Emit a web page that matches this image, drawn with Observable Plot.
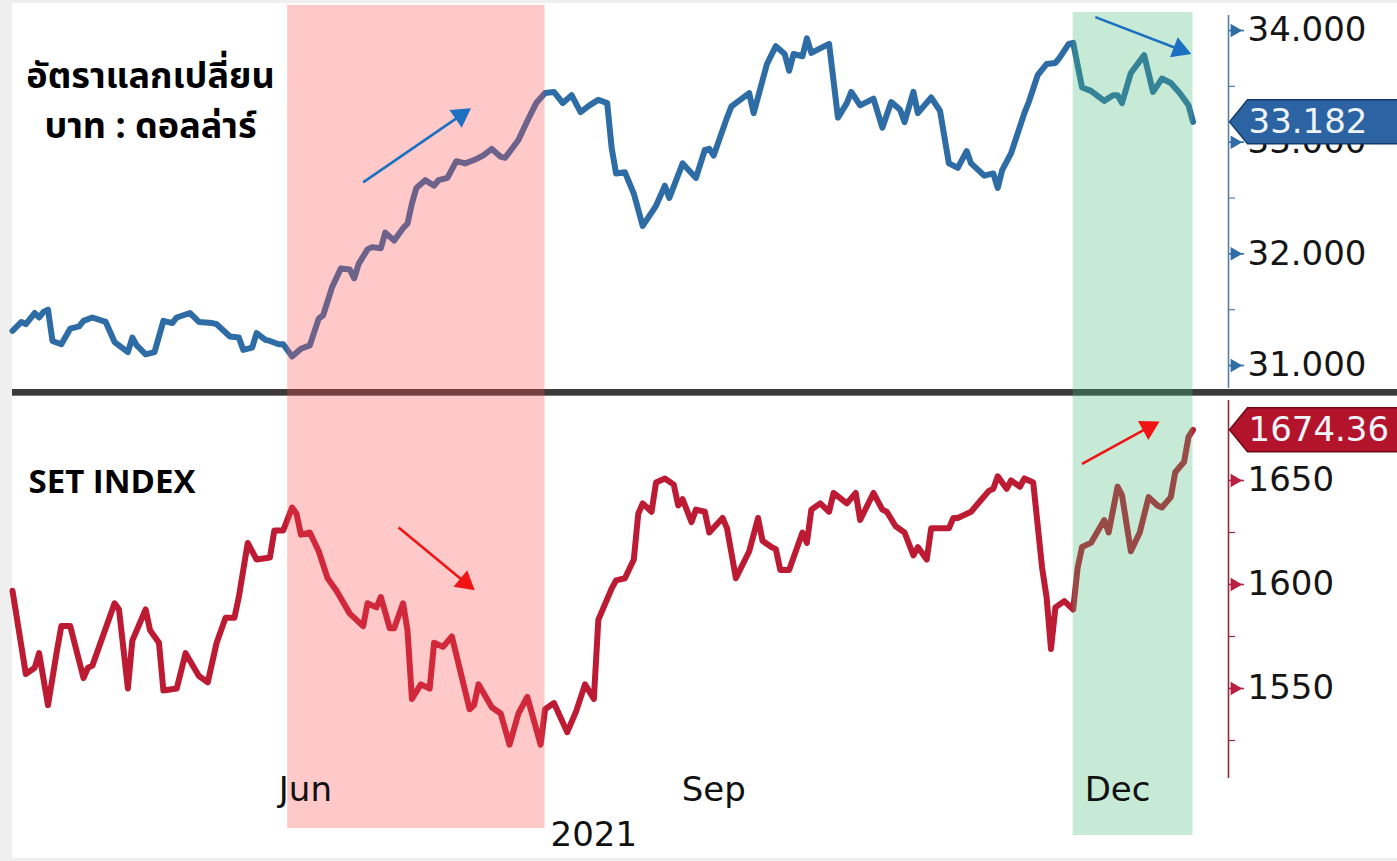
<!DOCTYPE html>
<html><head><meta charset="utf-8">
<script src="https://cdn.jsdelivr.net/npm/d3@7"></script>
<script src="https://cdn.jsdelivr.net/npm/@observablehq/plot@0.6"></script>
<style>
body{margin:0;background:#efefef;}
#wrap{position:relative;width:1397px;height:861px;overflow:hidden;}
#paper{position:absolute;left:12px;top:3px;right:0;bottom:3px;background:#fff;}
.layer{position:absolute;left:0;}
#sep{position:absolute;left:12px;right:0;top:389px;height:6px;background:#3b3b3b;border-bottom:1px solid #777;}
</style></head><body>
<div id="wrap"><div id="paper"></div>
<div id="top" class="layer" style="top:0"></div>
<div id="bottom" class="layer" style="top:393px"></div>
<div id="sep"></div>
<div id="overlay" class="layer" style="top:0;pointer-events:none"></div>
<div id="topAnno" class="layer" style="top:0;pointer-events:none"></div>
<div id="bottomAnno" class="layer" style="top:393px;pointer-events:none"></div>
</div>
<script>
// ---------- DATA ----------
const fxDates = ["2021-03-27","2021-03-29","2021-03-30","2021-04-01","2021-04-02","2021-04-03","2021-04-04","2021-04-05","2021-04-07","2021-04-09","2021-04-11","2021-04-12","2021-04-14","2021-04-17","2021-04-19","2021-04-22","2021-04-23","2021-04-24","2021-04-26","2021-04-28","2021-04-30","2021-05-02","2021-05-03","2021-05-06","2021-05-08","2021-05-11","2021-05-12","2021-05-15","2021-05-17","2021-05-18","2021-05-20","2021-05-21","2021-05-23","2021-05-24","2021-05-26","2021-05-27","2021-05-29","2021-05-31","2021-06-02","2021-06-04","2021-06-05","2021-06-07","2021-06-09","2021-06-11","2021-06-12","2021-06-13","2021-06-15","2021-06-16","2021-06-18","2021-06-19","2021-06-21","2021-06-23","2021-06-24","2021-06-25","2021-06-26","2021-06-28","2021-06-30","2021-07-01","2021-07-03","2021-07-05","2021-07-07","2021-07-09","2021-07-11","2021-07-13","2021-07-15","2021-07-16","2021-07-19","2021-07-21","2021-07-23","2021-07-25","2021-07-27","2021-07-29","2021-07-31","2021-08-02","2021-08-04","2021-08-06","2021-08-08","2021-08-09","2021-08-10","2021-08-12","2021-08-14","2021-08-16","2021-08-19","2021-08-21","2021-08-22","2021-08-25","2021-08-28","2021-08-30","2021-08-31","2021-09-01","2021-09-04","2021-09-05","2021-09-09","2021-09-10","2021-09-13","2021-09-15","2021-09-17","2021-09-18","2021-09-19","2021-09-21","2021-09-22","2021-09-23","2021-09-27","2021-09-29","2021-10-01","2021-10-02","2021-10-04","2021-10-07","2021-10-09","2021-10-11","2021-10-13","2021-10-14","2021-10-16","2021-10-17","2021-10-20","2021-10-22","2021-10-24","2021-10-26","2021-10-28","2021-10-29","2021-11-01","2021-11-03","2021-11-04","2021-11-05","2021-11-07","2021-11-10","2021-11-11","2021-11-13","2021-11-15","2021-11-17","2021-11-18","2021-11-20","2021-11-21","2021-11-23","2021-11-25","2021-11-28","2021-11-30","2021-12-01","2021-12-02","2021-12-04","2021-12-07","2021-12-09","2021-12-11","2021-12-13","2021-12-15","2021-12-17","2021-12-18"];
const fxValues = [31.31,31.39,31.37,31.47,31.43,31.48,31.50,31.22,31.19,31.33,31.35,31.40,31.43,31.39,31.21,31.12,31.25,31.18,31.10,31.12,31.40,31.38,31.43,31.47,31.39,31.38,31.37,31.26,31.25,31.14,31.16,31.29,31.23,31.22,31.19,31.19,31.08,31.15,31.18,31.42,31.45,31.70,31.87,31.86,31.78,31.91,32.04,32.06,32.05,32.19,32.12,32.23,32.27,32.45,32.59,32.66,32.61,32.66,32.68,32.83,32.81,32.84,32.88,32.94,32.87,32.86,33.02,33.19,33.35,33.44,33.45,33.35,33.42,33.27,33.33,33.38,33.35,32.95,32.72,32.73,32.54,32.25,32.43,32.61,32.50,32.81,32.68,32.93,32.94,32.88,33.22,33.32,33.44,33.26,33.70,33.86,33.79,33.64,33.79,33.77,33.93,33.80,33.88,33.22,33.35,33.45,33.33,33.39,33.13,33.36,33.29,33.18,33.45,33.26,33.40,33.28,32.81,32.77,32.92,32.81,32.70,32.72,32.59,32.75,32.90,33.26,33.36,33.60,33.70,33.71,33.76,33.88,33.89,33.49,33.46,33.37,33.42,33.42,33.35,33.62,33.78,33.45,33.57,33.53,33.44,33.33,33.182];

const setDates = ["2021-03-27","2021-03-30","2021-04-01","2021-04-02","2021-04-04","2021-04-06","2021-04-07","2021-04-09","2021-04-12","2021-04-13","2021-04-14","2021-04-19","2021-04-20","2021-04-22","2021-04-23","2021-04-26","2021-04-27","2021-04-29","2021-04-30","2021-05-03","2021-05-05","2021-05-08","2021-05-10","2021-05-12","2021-05-14","2021-05-16","2021-05-17","2021-05-19","2021-05-21","2021-05-24","2021-05-25","2021-05-27","2021-05-29","2021-05-30","2021-05-31","2021-06-02","2021-06-04","2021-06-06","2021-06-08","2021-06-11","2021-06-14","2021-06-15","2021-06-17","2021-06-18","2021-06-20","2021-06-21","2021-06-23","2021-06-24","2021-06-25","2021-06-27","2021-06-29","2021-06-30","2021-07-02","2021-07-04","2021-07-08","2021-07-09","2021-07-10","2021-07-13","2021-07-15","2021-07-17","2021-07-19","2021-07-21","2021-07-24","2021-07-25","2021-07-27","2021-07-30","2021-08-01","2021-08-03","2021-08-05","2021-08-06","2021-08-09","2021-08-10","2021-08-12","2021-08-14","2021-08-15","2021-08-16","2021-08-18","2021-08-19","2021-08-21","2021-08-23","2021-08-24","2021-08-25","2021-08-27","2021-08-28","2021-08-30","2021-08-31","2021-09-03","2021-09-04","2021-09-06","2021-09-09","2021-09-11","2021-09-12","2021-09-14","2021-09-15","2021-09-16","2021-09-18","2021-09-21","2021-09-22","2021-09-23","2021-09-25","2021-09-27","2021-09-28","2021-10-01","2021-10-03","2021-10-04","2021-10-07","2021-10-09","2021-10-10","2021-10-12","2021-10-14","2021-10-16","2021-10-17","2021-10-19","2021-10-20","2021-10-24","2021-10-25","2021-10-26","2021-10-29","2021-10-31","2021-11-02","2021-11-03","2021-11-04","2021-11-06","2021-11-07","2021-11-09","2021-11-10","2021-11-12","2021-11-14","2021-11-15","2021-11-16","2021-11-17","2021-11-19","2021-11-21","2021-11-22","2021-11-23","2021-11-25","2021-11-28","2021-11-29","2021-12-01","2021-12-02","2021-12-04","2021-12-06","2021-12-08","2021-12-10","2021-12-11","2021-12-13","2021-12-14","2021-12-16","2021-12-17","2021-12-18"];
const setValues = [1597,1557,1560,1567,1542,1568,1580,1580,1555,1560,1561,1591,1588,1550,1573,1588,1578,1572,1549,1550,1567,1556,1553,1572,1584,1584,1594,1620,1612,1613,1626,1626,1637,1634,1624,1625,1616,1603,1597,1586,1580,1591,1589,1594,1579,1579,1591,1578,1545,1552,1550,1572,1570,1575,1540,1542,1552,1541,1538,1523,1538,1546,1523,1540,1543,1529,1539,1552,1545,1583,1598,1602,1603,1612,1634,1639,1635,1649,1651,1648,1638,1641,1630,1636,1635,1625,1632,1627,1603,1616,1632,1621,1618,1617,1607,1607,1625,1620,1636,1639,1635,1644,1639,1644,1631,1644,1636,1635,1628,1625,1614,1618,1612,1627,1627,1632,1632,1635,1640,1645,1646,1652,1646,1650,1647,1651,1649,1608,1594,1569,1589,1592,1588,1608,1618,1620,1631,1625,1647,1643,1616,1625,1642,1638,1637,1642,1654,1659,1671,1674.36];

const fxMajorTicks = [31, 32, 33, 34];
const fxMinorTicks = [31.5, 32.5, 33.5];
const setMajorTicks = [1550, 1600, 1650];
const setMinorTicks = [1525, 1575, 1625];

const monthTickDates = ["2021-06-01", "2021-09-01", "2021-12-01"];
const monthTickLabels = ["Jun", "Sep", "Dec"];
const yearLabelDate = "2021-08-05";
const yearLabel = "2021";

const bandStarts = ["2021-05-28", "2021-11-21"];
const bandEnds = ["2021-07-25", "2021-12-18"];
const bandKinds = ["down", "up"];

const fxTitleLines = ["อัตราแลกเปลี่ยน", "บาท : ดอลล่าร์"];
const setTitle = "SET INDEX";

const fxArrows = [
  {x1: "2021-06-14", y1: 32.64, x2: "2021-07-06", y2: 33.24},
  {x1: "2021-11-26", y1: 34.12, x2: "2021-12-15", y2: 33.83}
];
const setArrows = [
  {x1: "2021-06-22", y1: 1627.4, x2: "2021-07-07", y2: 1601},
  {x1: "2021-11-23", y1: 1658, x2: "2021-12-08", y2: 1675.5}
];

// ---------- BUILD ----------
const xDomain = [new Date("2021-03-27"), new Date("2021-12-26")];
const fxDomain = [30.794, 34.269];
const setDomain = [1503.37, 1691.83];
const W = 1397, ML = 12, MR = 169;

const fx = fxDates.map((d, i) => ({date: new Date(d), value: fxValues[i]}));
const set = setDates.map((d, i) => ({date: new Date(d), value: setValues[i]}));
const bands = bandStarts.map((s, i) => ({start: new Date(s), end: new Date(bandEnds[i]), kind: bandKinds[i]}));
const months = monthTickDates.map((d, i) => ({date: new Date(d), label: monthTickLabels[i]}));

const xs = d3.scaleUtc().domain(xDomain).range([ML, W - MR]);
function prepArrows(arr, yScale) {
  return arr.map(a => {
    const o = {x1: new Date(a.x1), x2: new Date(a.x2), y1: a.y1, y2: a.y2};
    const dx = xs(o.x2) - xs(o.x1), dy = yScale(o.y2) - yScale(o.y1);
    o.angle = Math.atan2(dx, -dy) * 180 / Math.PI;
    return o;
  });
}
const fxArr = prepArrows(fxArrows, d3.scaleLinear().domain(fxDomain).range([388, 0]));
const setArr = prepArrows(setArrows, d3.scaleLinear().domain(setDomain).range([392, 0]));

const flagSymbol = {
  draw(ctx) {
    ctx.moveTo(1, 0); ctx.lineTo(19, -22); ctx.lineTo(200, -22);
    ctx.lineTo(200, 22); ctx.lineTo(19, 22); ctx.closePath();
  }
};

const baseStyle = {background: "transparent", fontFamily: "DejaVu Sans", color: "#111", overflow: "visible"};
const thaiFont = "'Noto Sans Thai', 'Noto Sans Thai Looped', 'Noto Sans Thai UI', Loma, Garuda, Kinnari, 'Noto Sans', sans-serif";

function panel({data, domain, height, major, minor, fmt, lineColor, axisColor, tickColor, flagFill, flagStroke, titleMarks}) {
  const last = data[data.length - 1];
  return Plot.plot({
    width: W, height, marginLeft: ML, marginRight: MR, marginTop: 0, marginBottom: 0,
    style: baseStyle,
    x: {domain: xDomain, axis: null},
    y: {domain, label: null},
    marks: [
      Plot.ruleX([xDomain[1]], {stroke: axisColor, strokeWidth: 1.6, insetTop: height === 388 ? 15 : 7, insetBottom: height === 388 ? 0 : 7}),
      Plot.axisY(minor, {anchor: "right", tickSize: 6, tickFormat: () => "", stroke: axisColor, strokeWidth: 1.2, label: null}),
      Plot.axisY(major, {anchor: "right", tickSize: 15, tickPadding: 4, tickFormat: fmt, fontSize: 34, stroke: tickColor, strokeWidth: 1.6, fill: "#151515", label: null}),
      Plot.dot(major, {y: d => d, frameAnchor: "right", symbol: "triangle", rotate: 90, r: 5, dx: 6, fill: tickColor}),
      Plot.line(data, {x: "date", y: "value", stroke: lineColor, strokeWidth: 6, strokeLinejoin: "round", strokeLinecap: "round"}),
      Plot.dot([last], {y: "value", frameAnchor: "right", symbol: flagSymbol, r: 1, fill: flagFill, stroke: flagStroke, strokeWidth: 1.5}),
      Plot.text([last], {y: "value", frameAnchor: "right", text: d => fmt(d.value), textAnchor: "start", dx: 20, fontSize: 34, fill: "#eef3fa"}),
      ...titleMarks
    ]
  });
}

function anno({domain, height, arrows, color}) {
  return Plot.plot({
    width: W, height, marginLeft: ML, marginRight: MR, marginTop: 0, marginBottom: 0,
    style: baseStyle,
    x: {domain: xDomain, axis: null},
    y: {domain, axis: null},
    marks: [
      Plot.link(arrows, {x1: "x1", y1: "y1", x2: "x2", y2: "y2", stroke: color, strokeWidth: 2.6}),
      Plot.dot(arrows, {x: "x2", y: "y2", symbol: "triangle", r: 8, rotate: "angle", fill: color})
    ]
  });
}

document.getElementById("top").append(panel({
  data: fx, domain: fxDomain, height: 388, major: fxMajorTicks, minor: fxMinorTicks,
  fmt: d => d.toFixed(3), lineColor: "#2e6ca5", axisColor: "#5a7ea4", tickColor: "#2f6da4",
  flagFill: "#2c63a2", flagStroke: "#143a69",
  titleMarks: [
    Plot.text([fxTitleLines[0]], {frameAnchor: "top-left", dx: 138, dy: 76, textAnchor: "middle", lineAnchor: "middle", fontSize: 36, fontWeight: "bold", fontFamily: thaiFont, fill: "#000"}),
    Plot.text([fxTitleLines[1]], {frameAnchor: "top-left", dx: 138, dy: 126, textAnchor: "middle", lineAnchor: "middle", fontSize: 36, fontWeight: "bold", fontFamily: thaiFont, fill: "#000"})
  ]
}));

document.getElementById("bottom").append(panel({
  data: set, domain: setDomain, height: 392, major: setMajorTicks, minor: setMinorTicks,
  fmt: d => Number.isInteger(d) ? String(d) : d.toFixed(2), lineColor: "#bd1b34", axisColor: "#8e2a3c", tickColor: "#b8203f",
  flagFill: "#b3142c", flagStroke: "#6e0a18",
  titleMarks: [
    Plot.text([setTitle], {frameAnchor: "top-left", dx: 16, dy: 89, textAnchor: "start", lineAnchor: "middle", fontSize: 33, fontWeight: "bold", fontFamily: "'Open Sans', 'Noto Sans', sans-serif", fill: "#000"})
  ]
}));

document.getElementById("overlay").append(Plot.plot({
  width: W, height: 861, marginLeft: ML, marginRight: MR, marginTop: 5, marginBottom: 26,
  style: baseStyle,
  x: {domain: xDomain, axis: null},
  marks: [
    Plot.rect(bands.filter(b => b.kind === "down"), {x1: "start", x2: "end", fill: "#ff4d4d", fillOpacity: 0.3, insetBottom: 7}),
    Plot.rect(bands.filter(b => b.kind === "up"), {x1: "start", x2: "end", fill: "#41b973", fillOpacity: 0.3, insetTop: 7}),
    Plot.text(months, {x: "date", text: "label", frameAnchor: "bottom", dy: -35, fontSize: 34, fill: "#111"}),
    Plot.text([{date: new Date(yearLabelDate), label: yearLabel}], {x: "date", text: "label", frameAnchor: "bottom", dy: 10, fontSize: 34, fill: "#111"})
  ]
}));

document.getElementById("topAnno").append(anno({domain: fxDomain, height: 388, arrows: fxArr, color: "#1b70c2"}));
document.getElementById("bottomAnno").append(anno({domain: setDomain, height: 392, arrows: setArr, color: "#f01414"}));
</script>
</body></html>
